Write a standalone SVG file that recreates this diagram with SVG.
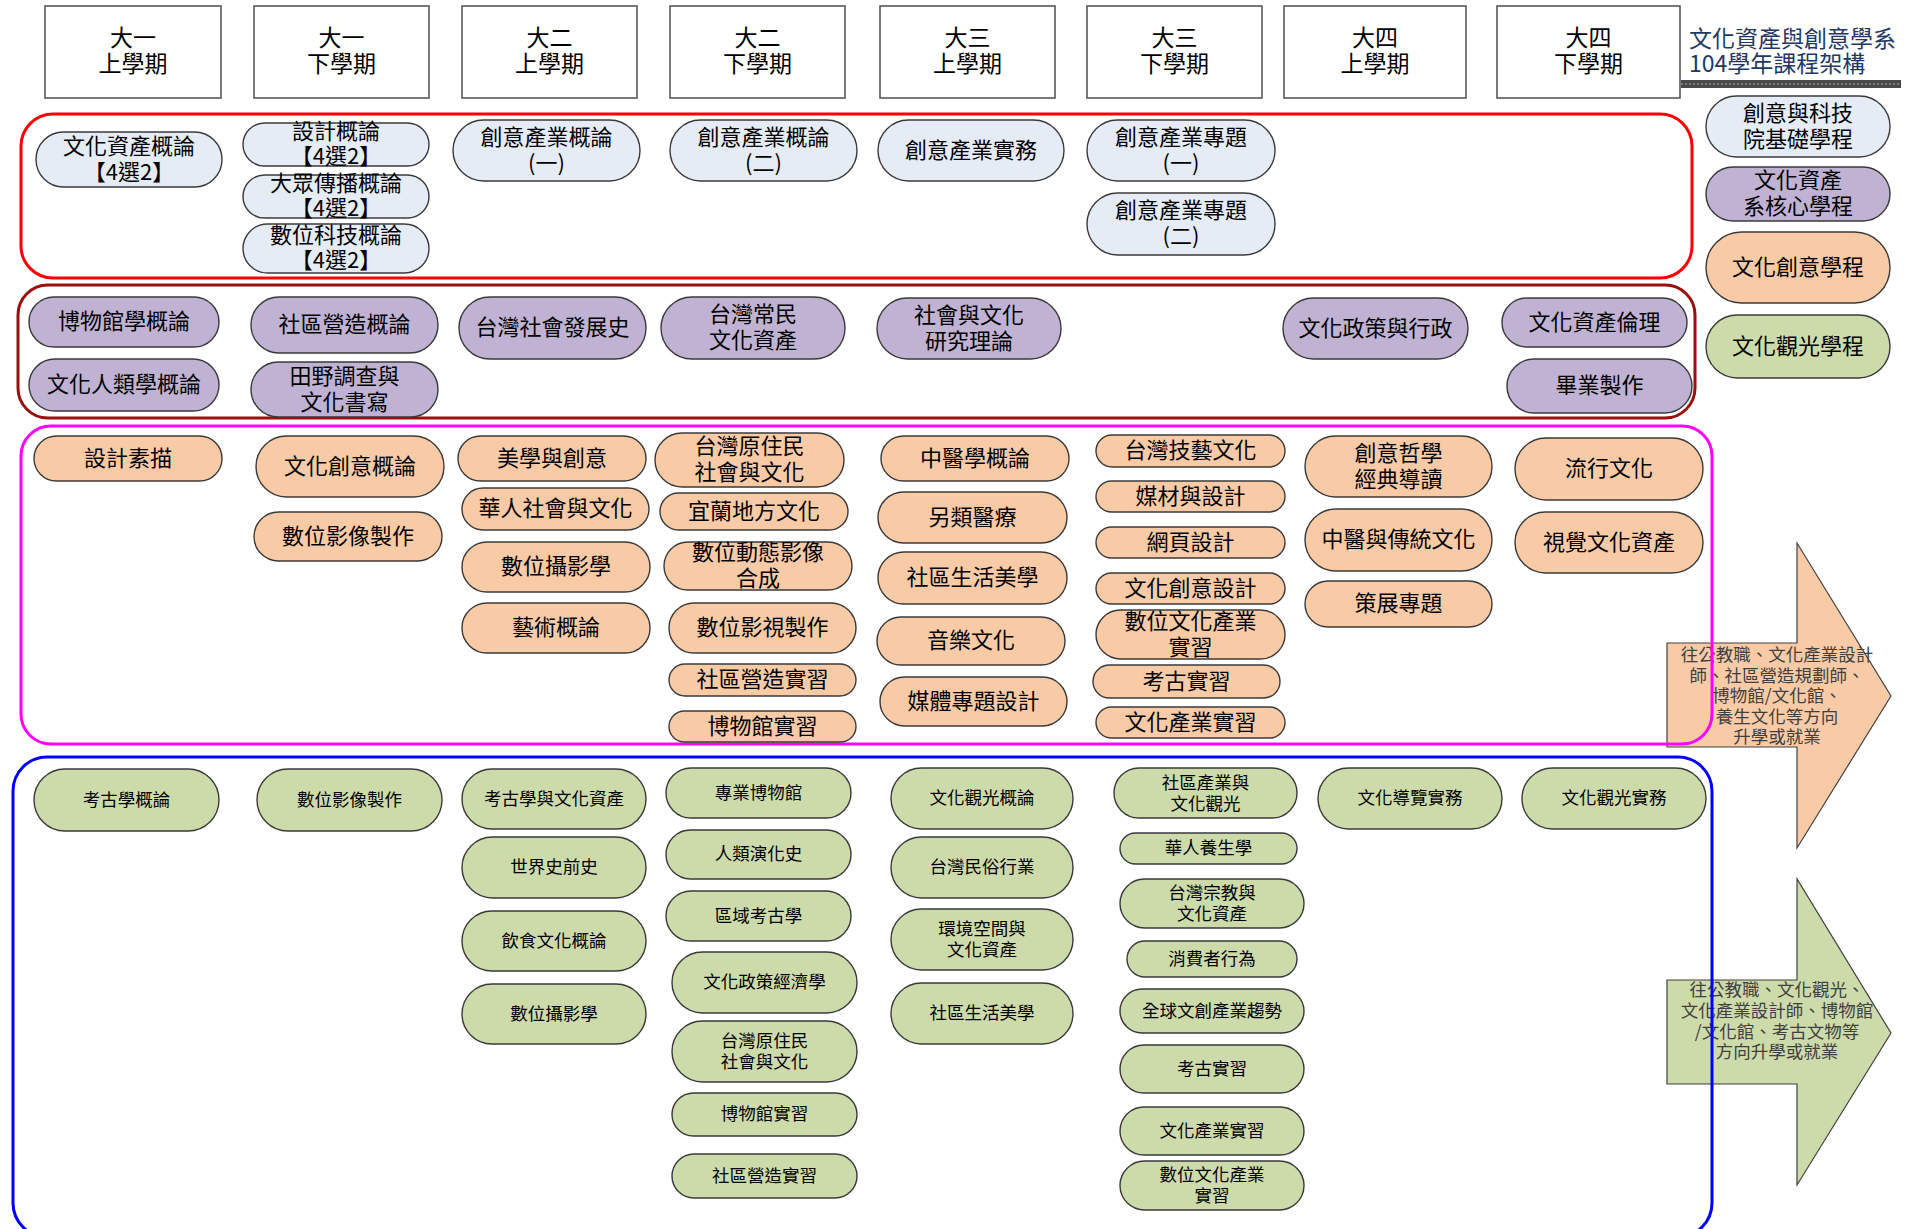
<svg xmlns="http://www.w3.org/2000/svg" width="1921" height="1229" viewBox="0 0 1921 1229">
<style>
text{font-family:"Noto Sans CJK TC","Noto Sans CJK SC",sans-serif;text-anchor:middle;dominant-baseline:central;fill:#000}
.hd{fill:#fff;stroke:#595959;stroke-width:1.6}
.pl{stroke:#3a3a3a;stroke-width:1.4}
.b{fill:#E5ECF6}.p{fill:#BFB2D3}.o{fill:#F9CAA6}.g{fill:#CDDAAA}
.L{font-size:22px}.S{font-size:17.5px}.H{font-size:23px}
.ar{stroke:#404040;stroke-width:1.2}
.at{font-size:17.5px;fill:#404040}
.grp{fill:none;stroke-width:3}
</style>
<rect width="1921" height="1229" fill="#fff"/>

<g id="arrows">
<g id="arrow-creative">
<polygon class="ar" fill="#F9CAA6" points="1667,643 1797,643 1797,543 1891,696 1797,848 1797,747 1667,747"/>
<text class="at"><tspan x="1777" y="653">往公教職、文化產業設計</tspan><tspan x="1777" y="673.5">師、社區營造規劃師、</tspan><tspan x="1777" y="694">博物館/文化館、</tspan><tspan x="1777" y="714.5">養生文化等方向</tspan><tspan x="1777" y="735">升學或就業</tspan></text>
</g>
<g id="arrow-tourism">
<polygon class="ar" fill="#CDDAAA" points="1667,980 1797,980 1797,879 1891,1033 1797,1185 1797,1084 1667,1084"/>
<text class="at"><tspan x="1777" y="988">往公教職、文化觀光、</tspan><tspan x="1777" y="1009">文化產業設計師、博物館</tspan><tspan x="1777" y="1030">/文化館、考古文物等</tspan><tspan x="1777" y="1050">方向升學或就業</tspan></text>
</g>
</g>

<g id="connectors">
<rect class="grp" stroke="#FF0000" x="21" y="114" width="1671" height="164" rx="32"/>
<rect class="grp" stroke="#9B0F0F" x="18" y="285" width="1677" height="133" rx="30"/>
<rect class="grp" stroke="#FF00FF" x="21" y="426" width="1691" height="318" rx="30"/>
<rect class="grp" stroke="#0000FF" x="13" y="757" width="1699" height="480" rx="34"/>
</g>

<g id="headers">
<g id="h1"><rect class="hd" x="45" y="6" width="176" height="92"/><text class="H"><tspan x="133" y="36">大一</tspan><tspan x="133" y="62">上學期</tspan></text></g>
<g id="h2"><rect class="hd" x="254" y="6" width="175" height="92"/><text class="H"><tspan x="341.5" y="36">大一</tspan><tspan x="341.5" y="62">下學期</tspan></text></g>
<g id="h3"><rect class="hd" x="462" y="6" width="175" height="92"/><text class="H"><tspan x="549.5" y="36">大二</tspan><tspan x="549.5" y="62">上學期</tspan></text></g>
<g id="h4"><rect class="hd" x="670" y="6" width="175" height="92"/><text class="H"><tspan x="757.5" y="36">大二</tspan><tspan x="757.5" y="62">下學期</tspan></text></g>
<g id="h5"><rect class="hd" x="880" y="6" width="175" height="92"/><text class="H"><tspan x="967.5" y="36">大三</tspan><tspan x="967.5" y="62">上學期</tspan></text></g>
<g id="h6"><rect class="hd" x="1087" y="6" width="175" height="92"/><text class="H"><tspan x="1174.5" y="36">大三</tspan><tspan x="1174.5" y="62">下學期</tspan></text></g>
<g id="h7"><rect class="hd" x="1284" y="6" width="182" height="92"/><text class="H"><tspan x="1375" y="36">大四</tspan><tspan x="1375" y="62">上學期</tspan></text></g>
<g id="h8"><rect class="hd" x="1497" y="6" width="183" height="92"/><text class="H"><tspan x="1588.5" y="36">大四</tspan><tspan x="1588.5" y="62">下學期</tspan></text></g>
</g>

<g id="title">
<text class="H" style="text-anchor:start;fill:#1F3864"><tspan x="1689" y="37">文化資產與創意學系</tspan><tspan x="1689" y="62">104學年課程架構</tspan></text>
<rect x="1681" y="80" width="220" height="8" fill="#4a4a4a"/>
<line x1="1681" y1="84" x2="1901" y2="84" stroke="#8a8a8a" stroke-width="1.5" stroke-dasharray="2,2"/>
</g>

<g id="legend">
<g id="lg1"><rect class="pl b" x="1706" y="96" width="184" height="61" rx="30.5"/><text class="L"><tspan x="1798" y="110.5">創意與科技</tspan><tspan x="1798" y="136.5">院基礎學程</tspan></text></g>
<g id="lg2"><rect class="pl p" x="1706" y="167" width="184" height="54" rx="27"/><text class="L"><tspan x="1798" y="178">文化資產</tspan><tspan x="1798" y="204">系核心學程</tspan></text></g>
<g id="lg3"><rect class="pl o" x="1706" y="232" width="184" height="71" rx="35.5"/><text class="L" x="1798" y="264.5">文化創意學程</text></g>
<g id="lg4"><rect class="pl g" x="1706" y="315" width="184" height="63" rx="31.5"/><text class="L" x="1798" y="343.5">文化觀光學程</text></g>
</g>

<g id="basic">
<g id="b1"><rect class="pl b" x="36" y="132" width="186" height="55" rx="27.5"/><text class="L"><tspan x="129" y="143.5">文化資產概論</tspan><tspan x="129" y="169.5">【4選2】</tspan></text></g>
<g id="b2"><rect class="pl b" x="243" y="123" width="186" height="43" rx="21.5"/><text class="L"><tspan x="336" y="129">設計概論</tspan><tspan x="336" y="154">【4選2】</tspan></text></g>
<g id="b3"><rect class="pl b" x="243" y="175" width="186" height="43" rx="21.5"/><text class="L"><tspan x="336" y="181">大眾傳播概論</tspan><tspan x="336" y="206">【4選2】</tspan></text></g>
<g id="b4"><rect class="pl b" x="243" y="224" width="186" height="49" rx="24.5"/><text class="L"><tspan x="336" y="233">數位科技概論</tspan><tspan x="336" y="258">【4選2】</tspan></text></g>
<g id="b5"><rect class="pl b" x="453" y="120" width="187" height="61" rx="30.5"/><text class="L"><tspan x="546.5" y="134.5">創意產業概論</tspan><tspan x="546.5" y="160.5">(一)</tspan></text></g>
<g id="b6"><rect class="pl b" x="670" y="120" width="187" height="61" rx="30.5"/><text class="L"><tspan x="763.5" y="134.5">創意產業概論</tspan><tspan x="763.5" y="160.5">(二)</tspan></text></g>
<g id="b7"><rect class="pl b" x="878" y="120" width="186" height="61" rx="30.5"/><text class="L" x="971" y="147.5">創意產業實務</text></g>
<g id="b8"><rect class="pl b" x="1087" y="120" width="188" height="61" rx="30.5"/><text class="L"><tspan x="1181" y="134.5">創意產業專題</tspan><tspan x="1181" y="160.5">(一)</tspan></text></g>
<g id="b9"><rect class="pl b" x="1087" y="193" width="188" height="62" rx="31"/><text class="L"><tspan x="1181" y="208">創意產業專題</tspan><tspan x="1181" y="234">(二)</tspan></text></g>
</g>

<g id="core">
<g id="p1"><rect class="pl p" x="29" y="297" width="190" height="50" rx="25"/><text class="L" x="124" y="319">博物館學概論</text></g>
<g id="p2"><rect class="pl p" x="251" y="297" width="187" height="56" rx="28"/><text class="L" x="344.5" y="322">社區營造概論</text></g>
<g id="p3"><rect class="pl p" x="459" y="297" width="187" height="62" rx="31"/><text class="L" x="552.5" y="325">台灣社會發展史</text></g>
<g id="p4"><rect class="pl p" x="661" y="297" width="184" height="62" rx="31"/><text class="L"><tspan x="753" y="312">台灣常民</tspan><tspan x="753" y="338">文化資產</tspan></text></g>
<g id="p5"><rect class="pl p" x="877" y="298" width="184" height="61" rx="30.5"/><text class="L"><tspan x="969" y="312.5">社會與文化</tspan><tspan x="969" y="338.5">研究理論</tspan></text></g>
<g id="p6"><rect class="pl p" x="29" y="359" width="190" height="52" rx="26"/><text class="L" x="124" y="382">文化人類學概論</text></g>
<g id="p7"><rect class="pl p" x="251" y="362" width="187" height="55" rx="27.5"/><text class="L"><tspan x="344.5" y="373.5">田野調查與</tspan><tspan x="344.5" y="399.5">文化書寫</tspan></text></g>
<g id="p8"><rect class="pl p" x="1283" y="298" width="185" height="61" rx="30.5"/><text class="L" x="1375.5" y="325.5">文化政策與行政</text></g>
<g id="p9"><rect class="pl p" x="1502" y="298" width="185" height="49" rx="24.5"/><text class="L" x="1594.5" y="319.5">文化資產倫理</text></g>
<g id="p10"><rect class="pl p" x="1507" y="359" width="185" height="54" rx="27"/><text class="L" x="1599.5" y="383">畢業製作</text></g>
</g>

<g id="creative">
<g id="o1"><rect class="pl o" x="34" y="436" width="188" height="45" rx="22.5"/><text class="L" x="128" y="455.5">設計素描</text></g>
<g id="o2"><rect class="pl o" x="256" y="436" width="188" height="61" rx="30.5"/><text class="L" x="350" y="463.5">文化創意概論</text></g>
<g id="o3"><rect class="pl o" x="254" y="512" width="188" height="49" rx="24.5"/><text class="L" x="348" y="533.5">數位影像製作</text></g>
<g id="o4"><rect class="pl o" x="458" y="436" width="188" height="45" rx="22.5"/><text class="L" x="552" y="455.5">美學與創意</text></g>
<g id="o5"><rect class="pl o" x="462" y="488" width="187" height="42" rx="21"/><text class="L" x="555.5" y="506">華人社會與文化</text></g>
<g id="o6"><rect class="pl o" x="462" y="542" width="188" height="50" rx="25"/><text class="L" x="556" y="564">數位攝影學</text></g>
<g id="o7"><rect class="pl o" x="462" y="603" width="188" height="50" rx="25"/><text class="L" x="556" y="625">藝術概論</text></g>
<g id="o8"><rect class="pl o" x="655" y="433" width="189" height="54" rx="27"/><text class="L"><tspan x="749.5" y="444">台灣原住民</tspan><tspan x="749.5" y="470">社會與文化</tspan></text></g>
<g id="o9"><rect class="pl o" x="660" y="493" width="188" height="37" rx="18.5"/><text class="L" x="754" y="508.5">宜蘭地方文化</text></g>
<g id="o10"><rect class="pl o" x="664" y="542" width="188" height="48" rx="24"/><text class="L"><tspan x="758" y="550">數位動態影像</tspan><tspan x="758" y="576">合成</tspan></text></g>
<g id="o11"><rect class="pl o" x="669" y="603" width="187" height="50" rx="25"/><text class="L" x="762.5" y="625">數位影視製作</text></g>
<g id="o12"><rect class="pl o" x="669" y="664" width="187" height="32" rx="16"/><text class="L" x="762.5" y="677">社區營造實習</text></g>
<g id="o13"><rect class="pl o" x="669" y="711" width="187" height="31" rx="15.5"/><text class="L" x="762.5" y="723.5">博物館實習</text></g>
<g id="o14"><rect class="pl o" x="881" y="436" width="188" height="45" rx="22.5"/><text class="L" x="975" y="455.5">中醫學概論</text></g>
<g id="o15"><rect class="pl o" x="878" y="492" width="189" height="51" rx="25.5"/><text class="L" x="972.5" y="514.5">另類醫療</text></g>
<g id="o16"><rect class="pl o" x="878" y="552" width="189" height="52" rx="26"/><text class="L" x="972.5" y="575">社區生活美學</text></g>
<g id="o17"><rect class="pl o" x="877" y="617" width="188" height="48" rx="24"/><text class="L" x="971" y="638">音樂文化</text></g>
<g id="o18"><rect class="pl o" x="880" y="677" width="187" height="49" rx="24.5"/><text class="L" x="973.5" y="698.5">媒體專題設計</text></g>
<g id="o19"><rect class="pl o" x="1096" y="435" width="189" height="32" rx="16"/><text class="L" x="1190.5" y="448">台灣技藝文化</text></g>
<g id="o20"><rect class="pl o" x="1096" y="481" width="189" height="31" rx="15.5"/><text class="L" x="1190.5" y="493.5">媒材與設計</text></g>
<g id="o21"><rect class="pl o" x="1096" y="527" width="189" height="31" rx="15.5"/><text class="L" x="1190.5" y="539.5">網頁設計</text></g>
<g id="o22"><rect class="pl o" x="1096" y="573" width="189" height="31" rx="15.5"/><text class="L" x="1190.5" y="585.5">文化創意設計</text></g>
<g id="o23"><rect class="pl o" x="1096" y="610" width="189" height="49" rx="24.5"/><text class="L"><tspan x="1190.5" y="618.5">數位文化產業</tspan><tspan x="1190.5" y="644.5">實習</tspan></text></g>
<g id="o24"><rect class="pl o" x="1093" y="665" width="187" height="33" rx="16.5"/><text class="L" x="1186.5" y="678.5">考古實習</text></g>
<g id="o25"><rect class="pl o" x="1096" y="707" width="189" height="31" rx="15.5"/><text class="L" x="1190.5" y="719.5">文化產業實習</text></g>
<g id="o26"><rect class="pl o" x="1305" y="436" width="187" height="61" rx="30.5"/><text class="L"><tspan x="1398.5" y="450.5">創意哲學</tspan><tspan x="1398.5" y="476.5">經典導讀</tspan></text></g>
<g id="o27"><rect class="pl o" x="1305" y="509" width="187" height="62" rx="31"/><text class="L" x="1398.5" y="537">中醫與傳統文化</text></g>
<g id="o28"><rect class="pl o" x="1305" y="581" width="187" height="46" rx="23"/><text class="L" x="1398.5" y="601">策展專題</text></g>
<g id="o29"><rect class="pl o" x="1515" y="438" width="188" height="62" rx="31"/><text class="L" x="1609" y="466">流行文化</text></g>
<g id="o30"><rect class="pl o" x="1515" y="512" width="188" height="61" rx="30.5"/><text class="L" x="1609" y="539.5">視覺文化資產</text></g>
</g>

<g id="tourism">
<g id="g1"><rect class="pl g" x="34" y="769" width="185" height="62" rx="31"/><text class="S" x="126.5" y="798">考古學概論</text></g>
<g id="g2"><rect class="pl g" x="257" y="769" width="185" height="62" rx="31"/><text class="S" x="349.5" y="798">數位影像製作</text></g>
<g id="g3"><rect class="pl g" x="462" y="769" width="184" height="60" rx="30"/><text class="S" x="554" y="797">考古學與文化資產</text></g>
<g id="g4"><rect class="pl g" x="462" y="837" width="184" height="61" rx="30.5"/><text class="S" x="554" y="865.5">世界史前史</text></g>
<g id="g5"><rect class="pl g" x="462" y="911" width="184" height="60" rx="30"/><text class="S" x="554" y="939">飲食文化概論</text></g>
<g id="g6"><rect class="pl g" x="462" y="984" width="184" height="60" rx="30"/><text class="S" x="554" y="1012">數位攝影學</text></g>
<g id="g7"><rect class="pl g" x="666" y="768" width="185" height="50" rx="25"/><text class="S" x="758.5" y="791">專業博物館</text></g>
<g id="g8"><rect class="pl g" x="666" y="830" width="185" height="49" rx="24.5"/><text class="S" x="758.5" y="852.5">人類演化史</text></g>
<g id="g9"><rect class="pl g" x="666" y="891" width="185" height="50" rx="25"/><text class="S" x="758.5" y="914">區域考古學</text></g>
<g id="g10"><rect class="pl g" x="672" y="952" width="185" height="61" rx="30.5"/><text class="S" x="764.5" y="980.5">文化政策經濟學</text></g>
<g id="g11"><rect class="pl g" x="672" y="1021" width="185" height="61" rx="30.5"/><text class="S"><tspan x="764.5" y="1039">台灣原住民</tspan><tspan x="764.5" y="1060">社會與文化</tspan></text></g>
<g id="g12"><rect class="pl g" x="672" y="1093" width="185" height="43" rx="21.5"/><text class="S" x="764.5" y="1112.5">博物館實習</text></g>
<g id="g13"><rect class="pl g" x="672" y="1154" width="185" height="44" rx="22"/><text class="S" x="764.5" y="1174">社區營造實習</text></g>
<g id="g14"><rect class="pl g" x="891" y="768" width="182" height="61" rx="30.5"/><text class="S" x="982" y="796.5">文化觀光概論</text></g>
<g id="g15"><rect class="pl g" x="891" y="837" width="182" height="61" rx="30.5"/><text class="S" x="982" y="865.5">台灣民俗行業</text></g>
<g id="g16"><rect class="pl g" x="891" y="909" width="182" height="61" rx="30.5"/><text class="S"><tspan x="982" y="927">環境空間與</tspan><tspan x="982" y="948">文化資產</tspan></text></g>
<g id="g17"><rect class="pl g" x="891" y="983" width="182" height="61" rx="30.5"/><text class="S" x="982" y="1011.5">社區生活美學</text></g>
<g id="g18"><rect class="pl g" x="1114" y="768" width="183" height="50" rx="25"/><text class="S"><tspan x="1205.5" y="780.5">社區產業與</tspan><tspan x="1205.5" y="801.5">文化觀光</tspan></text></g>
<g id="g19"><rect class="pl g" x="1120" y="833" width="177" height="31" rx="15.5"/><text class="S" x="1208.5" y="846.5">華人養生學</text></g>
<g id="g20"><rect class="pl g" x="1120" y="879" width="184" height="49" rx="24.5"/><text class="S"><tspan x="1212" y="891">台灣宗教與</tspan><tspan x="1212" y="912">文化資產</tspan></text></g>
<g id="g21"><rect class="pl g" x="1127" y="941" width="170" height="36" rx="18"/><text class="S" x="1212" y="957">消費者行為</text></g>
<g id="g22"><rect class="pl g" x="1120" y="989" width="184" height="44" rx="22"/><text class="S" x="1212" y="1009">全球文創產業趨勢</text></g>
<g id="g23"><rect class="pl g" x="1120" y="1045" width="184" height="48" rx="24"/><text class="S" x="1212" y="1067">考古實習</text></g>
<g id="g24"><rect class="pl g" x="1120" y="1107" width="184" height="48" rx="24"/><text class="S" x="1212" y="1129">文化產業實習</text></g>
<g id="g25"><rect class="pl g" x="1120" y="1161" width="184" height="49" rx="24.5"/><text class="S"><tspan x="1212" y="1173">數位文化產業</tspan><tspan x="1212" y="1194">實習</tspan></text></g>
<g id="g26"><rect class="pl g" x="1318" y="768" width="184" height="61" rx="30.5"/><text class="S" x="1410" y="796.5">文化導覽實務</text></g>
<g id="g27"><rect class="pl g" x="1522" y="768" width="184" height="61" rx="30.5"/><text class="S" x="1614" y="796.5">文化觀光實務</text></g>
</g>
</svg>
